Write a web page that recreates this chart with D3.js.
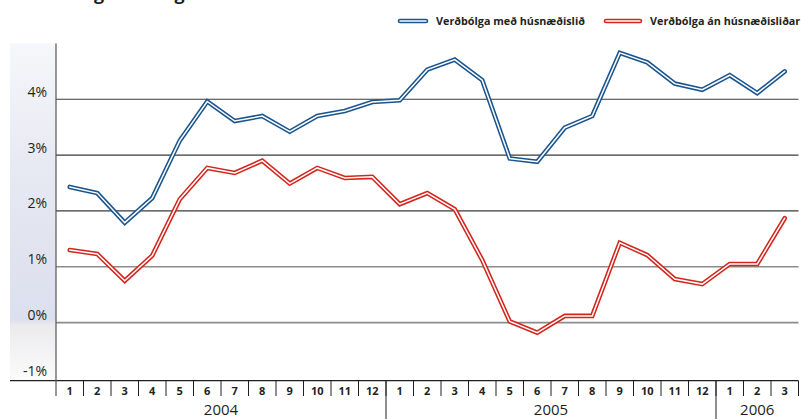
<!DOCTYPE html>
<html>
<head>
<meta charset="utf-8">
<script src="https://cdn.jsdelivr.net/npm/d3@7"></script>
<style>
  html, body { margin: 0; padding: 0; background: #fff; }
  svg { display: block; }
  text { font-family: "Open Sans", sans-serif; fill: #231f20; }
</style>
</head>
<body>
<script>
const title = 'Verðbólga með og án húsnæðisliðar';
const seriesNames = ['Verðbólga með húsnæðislið', 'Verðbólga án húsnæðisliðar'];
const months = ['1', '2', '3', '4', '5', '6', '7', '8', '9', '10', '11', '12',
  '1', '2', '3', '4', '5', '6', '7', '8', '9', '10', '11', '12',
  '1', '2', '3'];
const years = ['2004', '2005', '2006'];
const monthsPerYear = [12, 12, 3];
const withHousing = [2.43, 2.32, 1.79, 2.23, 3.26, 3.96, 3.61, 3.70, 3.42, 3.70, 3.79, 3.95,
  3.98, 4.53, 4.71, 4.34, 2.94, 2.88, 3.49, 3.70, 4.83, 4.66, 4.28, 4.17,
  4.43, 4.11, 4.50];
const withoutHousing = [1.30, 1.23, 0.75, 1.20, 2.21, 2.77, 2.68, 2.90, 2.49, 2.77, 2.59, 2.61,
  2.12, 2.32, 2.03, 1.12, 0.02, -0.18, 0.12, 0.12, 1.43, 1.21, 0.78, 0.69,
  1.05, 1.05, 1.87];
const yTicks = [-1, 0, 1, 2, 3, 4];
const colors = ['#1b558e', '#d3261d'];

const width = 801;
const height = 419;

const chart = d3.select('body')
  .append('svg')
  .attr('width', width)
  .attr('height', height);

const x = d3.scaleBand()
  .domain(d3.range(months.length))
  .range([56, 798.5]);

const y = d3.scaleLinear()
  .domain([-1.04, 5])
  .range([380.7, 43.4]);

const cx = i => x(i) + x.bandwidth() / 2;

// title, mostly cut off at the top edge (as in the source)
chart.append('text')
  .attr('x', 25)
  .attr('y', -0.5)
  .attr('font-size', 18)
  .attr('font-weight', 'bold')
  .attr('textLength', 318)
  .attr('lengthAdjust', 'spacingAndGlyphs')
  .text(title);

// shaded panel behind the y labels
const defs = chart.append('defs');
const grad = defs.append('linearGradient')
  .attr('id', 'panel')
  .attr('x1', 0).attr('y1', 0).attr('x2', 0).attr('y2', 1);
[[0, '#f6f7fa'], [0.4, '#e6e8f2'], [0.82, '#dcdfed'], [0.835, '#ebebee'], [1, '#fbfbfb']]
  .forEach(([o, c]) => grad.append('stop').attr('offset', o).attr('stop-color', c));

chart.append('rect')
  .attr('x', 10)
  .attr('y', y(5))
  .attr('width', 46)
  .attr('height', y(-1.04) - y(5))
  .attr('fill', 'url(#panel)');

// gridlines
chart.append('g')
  .selectAll('line')
  .data(yTicks.filter(d => d >= 0))
  .join('line')
  .attr('x1', 56)
  .attr('x2', 798.5)
  .attr('y1', d => y(d))
  .attr('y2', d => y(d))
  .attr('stroke', d => (d >= 2 ? '#3a3a3a' : '#8c8c8c'))
  .attr('stroke-width', d => (d >= 2 ? 1.2 : 1.6));

// y labels
chart.append('g')
  .selectAll('text')
  .data(yTicks)
  .join('text')
  .attr('x', 47)
  .attr('y', d => y(d) - 2.5)
  .attr('text-anchor', 'end')
  .attr('font-size', 14)
  .text(d => `${d}%`);

// axes lines
chart.append('line')
  .attr('x1', 10).attr('x2', 798.5)
  .attr('y1', y(-1.04)).attr('y2', y(-1.04))
  .attr('stroke', '#231f20')
  .attr('stroke-width', 1.3);

chart.append('line')
  .attr('x1', 56).attr('x2', 56)
  .attr('y1', y(5)).attr('y2', 396)
  .attr('stroke', '#555')
  .attr('stroke-width', 1.2);

// month ticks and labels
chart.append('g')
  .selectAll('line')
  .data(d3.range(1, months.length + 1))
  .join('line')
  .attr('x1', i => x.range()[0] + i * x.bandwidth())
  .attr('x2', i => x.range()[0] + i * x.bandwidth())
  .attr('y1', y(-1.04))
  .attr('y2', 396)
  .attr('stroke', '#231f20')
  .attr('stroke-width', 1);

chart.append('g')
  .selectAll('text')
  .data(months)
  .join('text')
  .attr('x', (d, i) => cx(i))
  .attr('y', 395)
  .attr('text-anchor', 'middle')
  .attr('font-size', 11)
  .attr('font-weight', 'bold')
  .text(d => d);

// year separators and labels
const yearStarts = monthsPerYear.map((n, i) => d3.sum(monthsPerYear.slice(0, i)));

chart.append('g')
  .selectAll('line')
  .data(yearStarts.slice(1))
  .join('line')
  .attr('x1', s => x(s))
  .attr('x2', s => x(s))
  .attr('y1', y(-1.04))
  .attr('y2', height)
  .attr('stroke', '#231f20')
  .attr('stroke-width', 1);

chart.append('g')
  .selectAll('text')
  .data(years)
  .join('text')
  .attr('x', (d, i) => (x(yearStarts[i]) + x(yearStarts[i] + monthsPerYear[i] - 1) + x.bandwidth()) / 2)
  .attr('y', 415)
  .attr('text-anchor', 'middle')
  .attr('font-size', 15)
  .text(d => d);

// double lines
const line = d3.line()
  .x((d, i) => cx(i))
  .y(d => y(d));

[withHousing, withoutHousing].forEach((series, k) => {
  chart.append('path')
    .datum(series)
    .attr('d', line)
    .attr('fill', 'none')
    .attr('stroke', colors[k])
    .attr('stroke-width', 4.6)
    .attr('stroke-linejoin', 'miter')
    .attr('stroke-linecap', 'round');
  chart.append('path')
    .datum(series)
    .attr('d', line)
    .attr('fill', 'none')
    .attr('stroke', '#fff')
    .attr('stroke-width', 1.5)
    .attr('stroke-linecap', 'round');
});

// legend
const legendX = [400, 606];
const legendW = [26, 34];
const legend = chart.append('g');
seriesNames.forEach((name, k) => {
  legend.append('line')
    .attr('x1', legendX[k]).attr('x2', legendX[k] + legendW[k])
    .attr('y1', 21).attr('y2', 21)
    .attr('stroke', colors[k])
    .attr('stroke-width', 4.6)
    .attr('stroke-linecap', 'round');
  legend.append('line')
    .attr('x1', legendX[k]).attr('x2', legendX[k] + legendW[k])
    .attr('y1', 21).attr('y2', 21)
    .attr('stroke', '#fff')
    .attr('stroke-width', 1.5)
    .attr('stroke-linecap', 'round');
  legend.append('text')
    .attr('x', legendX[k] + legendW[k] + 10)
    .attr('y', 25)
    .attr('font-size', 10.8)
    .attr('font-weight', 'bold')
    .text(name);
});
</script>
</body>
</html>
